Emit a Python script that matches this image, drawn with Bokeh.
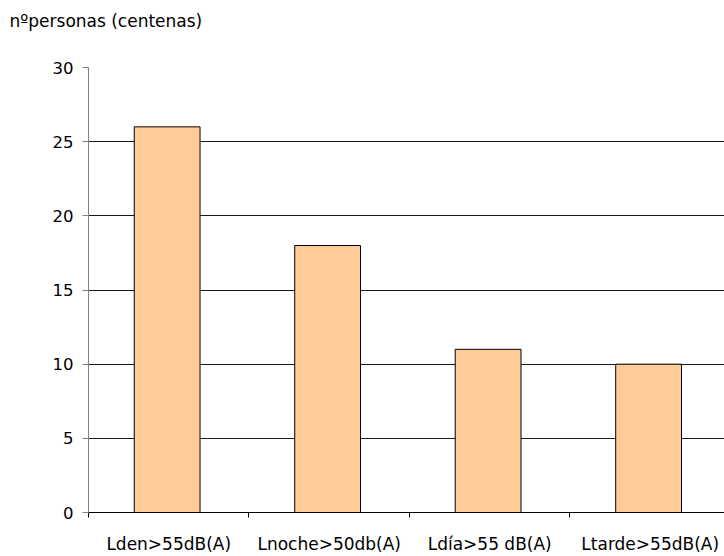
from bokeh.plotting import figure
from bokeh.models import Range1d, FixedTicker, Title, ColumnDataSource
from bokeh.embed import file_html
from bokeh.resources import INLINE

categories = ["Lden>55dB(A)", "Lnoche>50db(A)", "Ldía>55 dB(A)", "Ltarde>55dB(A)"]
values = [26, 18, 11, 10]
y_ticks = [0, 5, 10, 15, 20, 25, 30]
title_text = "nºpersonas (centenas)"

FONT = "DejaVu Sans"

centers = [i + 0.49 for i in range(len(categories))]
src = ColumnDataSource(dict(x=centers, top=values))

p = figure(width=724, height=556, output_backend="svg", toolbar_location=None,
           x_range=Range1d(0, 3.963), y_range=Range1d(0, 30),
           min_border_left=88, min_border_right=0, min_border_top=67, min_border_bottom=43)
p.outline_line_color = None
p.background_fill_color = "white"
p.border_fill_color = "white"

p.vbar(x="x", top="top", bottom=0, width=0.41, source=src,
       fill_color="#FFCC99", line_color="black", line_width=1)

# spacer (nearest the frame), then the real title above it
spacer = Title(text=" ", align="left", text_font=FONT, text_font_size="17px", standoff=15)
p.add_layout(spacer, "above")
t = Title(text=title_text, align="left", offset=-79,
          text_font=FONT, text_font_size="17px", text_font_style="normal",
          text_color="black", standoff=0)
p.add_layout(t, "above")

# x axis
p.xaxis.ticker = FixedTicker(ticks=[i + 0.5 for i in range(len(categories))], minor_ticks=[0, 1, 2, 3])
p.xaxis.major_label_overrides = {i + 0.5: lab for i, lab in enumerate(categories)}
p.xaxis.major_tick_in = 0
p.xaxis.major_tick_out = 0
p.xaxis.minor_tick_in = 0
p.xaxis.minor_tick_out = 5
p.xaxis.minor_tick_line_color = "black"
p.xaxis.axis_line_color = "black"
p.xaxis.major_label_standoff = 16
p.xaxis.major_label_text_font = FONT
p.xaxis.major_label_text_font_size = "17px"
p.xaxis.major_label_text_color = "black"

# y axis
p.yaxis.ticker = FixedTicker(ticks=y_ticks, minor_ticks=[])
p.yaxis.axis_line_color = "#808080"
p.yaxis.major_tick_line_color = "#808080"
p.yaxis.major_tick_in = 0
p.yaxis.major_tick_out = 6
p.yaxis.major_label_standoff = 9
p.yaxis.major_label_text_font = FONT
p.yaxis.major_label_text_font_size = "16.5px"
p.yaxis.major_label_text_color = "black"

p.xgrid.grid_line_color = None
p.ygrid.ticker = FixedTicker(ticks=y_ticks[1:])
p.ygrid.grid_line_color = "#1a1a1a"
p.ygrid.grid_line_width = 1

open("out.html", "w").write(file_html(p, INLINE))
